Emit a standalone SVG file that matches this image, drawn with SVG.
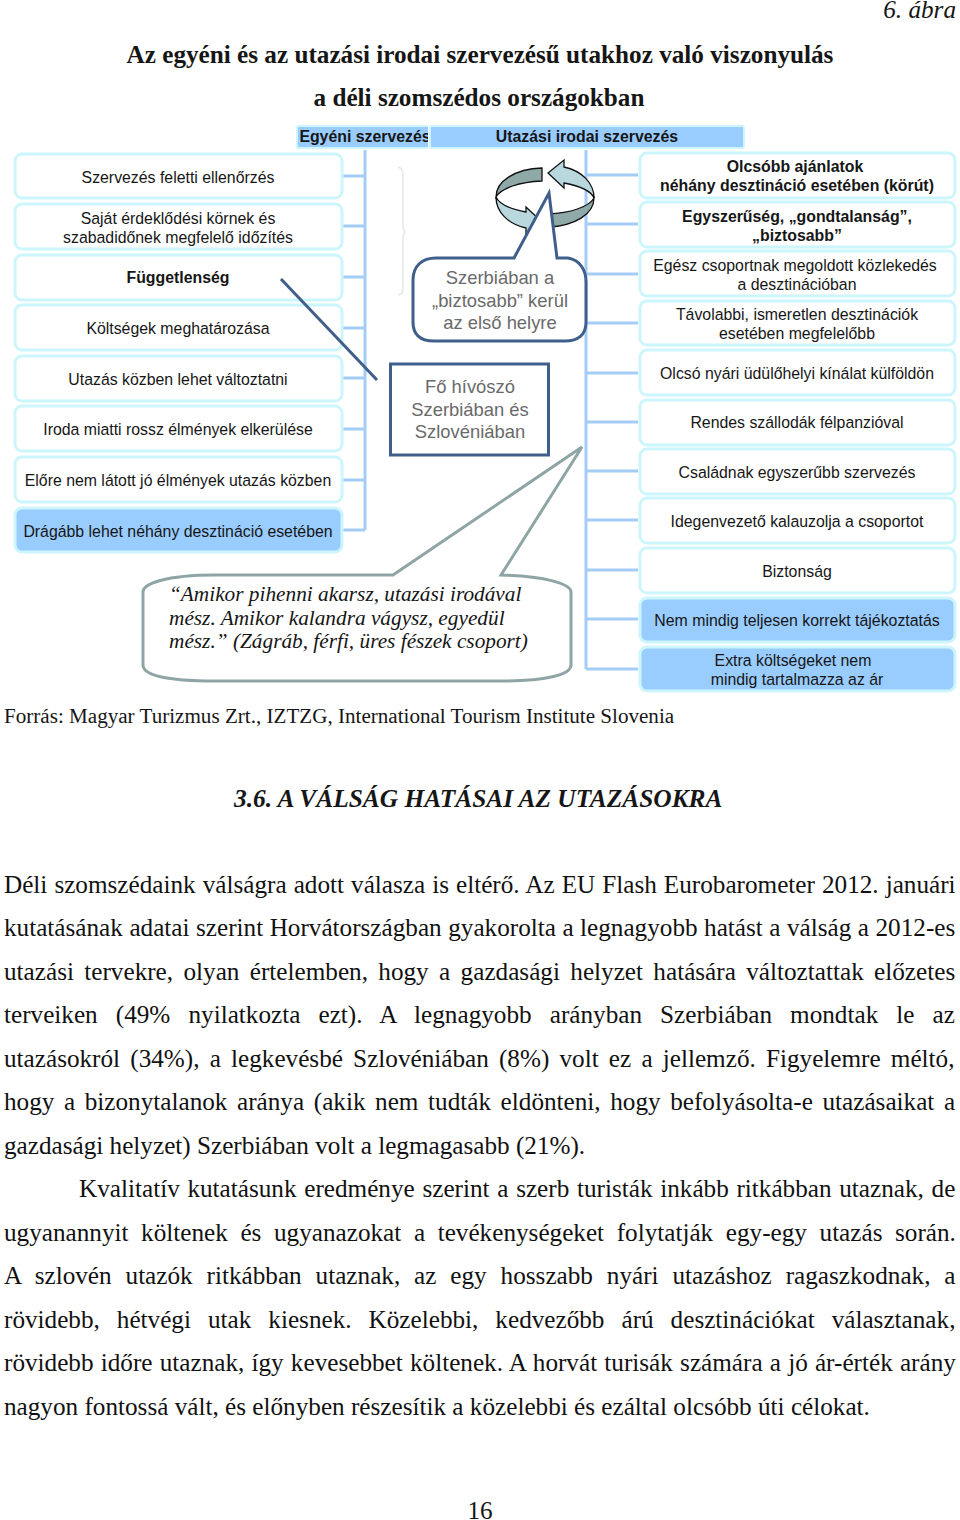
<svg xmlns="http://www.w3.org/2000/svg" width="960" height="1520" viewBox="0 0 960 1520">
<style>
text{font-family:"Liberation Sans",Arial,sans-serif;fill:#161616}
.s{font-family:"Liberation Serif","Times New Roman",serif}
.b{font-size:15.850px;text-anchor:middle}
.bb{font-size:15.850px;text-anchor:middle;font-weight:bold}
.c{font-size:18.400px;text-anchor:middle;fill:#6a6a6a}
.p{font-family:"Liberation Serif","Times New Roman",serif;font-size:25.200px;fill:#111}
.q{font-size:21.300px;font-style:italic}
.n{fill:#fff;stroke:#ccf6fb;stroke-width:3}
.h{fill:#99ccff;stroke:#ccf6fb;stroke-width:2}
.t{fill:none;stroke:#a3cdf5;stroke-width:3}
</style>
<defs><clipPath id="hc"><rect x="297" y="124" width="131" height="26"/></clipPath></defs>
<g id="connectors">
<path class="t" d="M365 150V530M343 176H365M343 226H365M343 277H365M343 328H365M343 378H365M343 429H365M343 480H365M343 530H365"/>
<path class="t" d="M586 150V669M586 175H638M586 224H638M586 274H638M586 323H638M586 373H638M586 422H638M586 471H638M586 520H638M586 570H638M586 619H638M586 669H638"/>
<path d="M398 167C403 168 403 172 403 180V222C403 228 404 231 405 232C404 233 403 236 403 242V284C403 292 403 294 398 295" fill="none" stroke="#e2e8e8" stroke-width="1.5"/>
</g>
<g id="headers">
<rect class="h" x="297" y="126" width="140" height="22" rx="2"/>
<text class="bb" x="365" y="142" clip-path="url(#hc)">Egyéni szervezés</text>
<rect x="428" y="124" width="3" height="26" fill="#fff"/>
<rect class="h" x="430" y="126" width="314" height="22" rx="2"/>
<text class="bb" x="587" y="142">Utazási irodai szervezés</text>
</g>
<g id="left1"><rect class="n" x="15" y="154" width="327" height="44" rx="7"/><text class="b" x="178" y="183">Szervezés feletti ellenőrzés</text></g>
<g id="left2"><rect class="n" x="15" y="204" width="327" height="45" rx="7"/><text class="b" x="178" y="224">Saját érdeklődési körnek és</text><text class="b" x="178" y="243">szabadidőnek megfelelő időzítés</text></g>
<g id="left3"><rect class="n" x="15" y="255" width="327" height="45" rx="7"/><text class="bb" x="178" y="283">Függetlenség</text></g>
<g id="left4"><rect class="n" x="15" y="305" width="327" height="45" rx="7"/><text class="b" x="178" y="334">Költségek meghatározása</text></g>
<g id="left5"><rect class="n" x="15" y="356" width="327" height="45" rx="7"/><text class="b" x="178" y="385">Utazás közben lehet változtatni</text></g>
<g id="left6"><rect class="n" x="15" y="406" width="327" height="45" rx="7"/><text class="b" x="178" y="435">Iroda miatti rossz élmények elkerülése</text></g>
<g id="left7"><rect class="n" x="15" y="457" width="327" height="45" rx="7"/><text class="b" x="178" y="486">Előre nem látott jó élmények utazás közben</text></g>
<g id="left8"><rect class="n" x="15" y="508" width="327" height="44" rx="7" style="fill:#99ccff"/><text class="b" x="178" y="537">Drágább lehet néhány desztináció esetében</text></g>
<g id="right1"><rect class="n" x="640" y="153" width="315" height="45" rx="7"/><text class="bb" x="795" y="172">Olcsóbb ajánlatok</text><text class="bb" x="797" y="191">néhány desztináció esetében (körút)</text></g>
<g id="right2"><rect class="n" x="640" y="202" width="315" height="45" rx="7"/><text class="bb" x="797" y="222">Egyszerűség, „gondtalanság”,</text><text class="bb" x="797" y="241">„biztosabb”</text></g>
<g id="right3"><rect class="n" x="640" y="251" width="315" height="45" rx="7"/><text class="b" x="795" y="271">Egész csoportnak megoldott közlekedés</text><text class="b" x="797" y="290">a desztinációban</text></g>
<g id="right4"><rect class="n" x="640" y="301" width="315" height="44" rx="7"/><text class="b" x="797" y="320">Távolabbi, ismeretlen desztinációk</text><text class="b" x="797" y="339">esetében megfelelőbb</text></g>
<g id="right5"><rect class="n" x="640" y="350" width="315" height="45" rx="7"/><text class="b" x="797" y="379">Olcsó nyári üdülőhelyi kínálat külföldön</text></g>
<g id="right6"><rect class="n" x="640" y="400" width="315" height="45" rx="7"/><text class="b" x="797" y="428">Rendes szállodák félpanzióval</text></g>
<g id="right7"><rect class="n" x="640" y="449" width="315" height="45" rx="7"/><text class="b" x="797" y="478">Családnak egyszerűbb szervezés</text></g>
<g id="right8"><rect class="n" x="640" y="498" width="315" height="45" rx="7"/><text class="b" x="797" y="527">Idegenvezető kalauzolja a csoportot</text></g>
<g id="right9"><rect class="n" x="640" y="548" width="315" height="45" rx="7"/><text class="b" x="797" y="577">Biztonság</text></g>
<g id="right10"><rect class="n" x="640" y="598" width="315" height="44" rx="7" style="fill:#99ccff"/><text class="b" x="797" y="626">Nem mindig teljesen korrekt tájékoztatás</text></g>
<g id="right11"><rect class="n" x="640" y="647" width="315" height="44" rx="7" style="fill:#99ccff"/><text class="b" x="793" y="666">Extra költségeket nem</text><text class="b" x="797" y="685">mindig tartalmazza az ár</text></g>
<g id="cycle" stroke="#111" stroke-width="1.3" stroke-linejoin="miter">
<g id="cycleA"><path d="M542 168C515 169 496 181 496 197C501 188 520 182 542 181Z" fill="#8fa9a9"/><path d="M496 197C496 212 508 224 526 228V235L542 222L526 207V212C510 209 499 204 496 197Z" fill="#b9d8de"/></g>
<g transform="rotate(180 545 197.5)"><path d="M542 168C515 169 496 181 496 197C501 188 520 182 542 181Z" fill="#8fa9a9"/><path d="M496 197C496 212 508 224 526 228V235L542 222L526 207V212C510 209 499 204 496 197Z" fill="#b9d8de"/></g>
</g>
<g id="callout1"><path d="M514 258L549 193L557 258H568C580 260 586 270 586 282V322C586 335 578 341 565 341H434C420 341 413 335 413 322V280C413 266 422 258 436 258Z" fill="#fff" stroke="#3f5f8a" stroke-width="3"/>
<text class="c" x="500" y="284">Szerbiában a</text><text class="c" x="500" y="307">„biztosabb” kerül</text><text class="c" x="500" y="329">az első helyre</text></g>
<g id="callout2"><path d="M281 279L377 380" fill="none" stroke="#3f5f8a" stroke-width="3"/><rect x="390.500" y="364" width="158" height="91" fill="#fff" stroke="#3f5f8a" stroke-width="3"/>
<text class="c" x="470" y="393">Fő hívószó</text><text class="c" x="470" y="416">Szerbiában és</text><text class="c" x="470" y="438">Szlovéniában</text></g>
<g id="callout3"><path d="M393 575L582 447L501 575C545 576 571 584 571 592V665C571 675 545 681 500 681H215C165 681 143 675 143 665V592C143 584 165 575 215 575Z" fill="#fff" stroke="#8fa5a5" stroke-width="3"/>
<text class="s q" x="169" y="601">“Amikor pihenni akarsz, utazási irodával</text>
<text class="s q" x="169" y="625">mész. Amikor kalandra vágysz, egyedül</text>
<text class="s q" x="169" y="648">mész.” (Zágráb, férfi, üres fészek csoport)</text></g>
<g id="page">
<text class="s" x="956" y="18" text-anchor="end" style="font-size:25.200px;font-style:italic">6. ábra</text>
<text class="s" x="480" y="63" text-anchor="middle" style="font-size:25.200px;font-weight:bold">Az egyéni és az utazási irodai szervezésű utakhoz való viszonyulás</text>
<text class="s" x="479" y="106" text-anchor="middle" style="font-size:25.200px;font-weight:bold">a déli szomszédos országokban</text>
<text class="s" x="4" y="723" style="font-size:21.100px">Forrás: Magyar Turizmus Zrt., IZTZG, International Tourism Institute Slovenia</text>
<text class="s" x="234" y="807" style="font-size:25.400px;font-weight:bold;font-style:italic">3.6. A VÁLSÁG HATÁSAI AZ UTAZÁSOKRA</text>
<text class="p" x="4" y="893" style="word-spacing:.73px">Déli szomszédaink válságra adott válasza is eltérő. Az EU Flash Eurobarometer 2012. januári</text>
<text class="p" x="4" y="936" style="word-spacing:.2px">kutatásának adatai szerint Horvátországban gyakorolta a legnagyobb hatást a válság a 2012-es</text>
<text class="p" x="4" y="980" style="word-spacing:4.07px">utazási tervekre, olyan értelemben, hogy a gazdasági helyzet hatására változtattak előzetes</text>
<text class="p" x="4" y="1023" style="word-spacing:11.8px">terveiken (49% nyilatkozta ezt). A legnagyobb arányban Szerbiában mondtak le az</text>
<text class="p" x="4" y="1067" style="word-spacing:3.88px">utazásokról (34%), a legkevésbé Szlovéniában (8%) volt ez a jellemző. Figyelemre méltó,</text>
<text class="p" x="4" y="1110" style="word-spacing:3.3px">hogy a bizonytalanok aránya (akik nem tudták eldönteni, hogy befolyásolta-e utazásaikat a</text>
<text class="p" x="4" y="1154">gazdasági helyzet) Szerbiában volt a legmagasabb (21%).</text>
<text class="p" x="79" y="1197" style="word-spacing:1.4px">Kvalitatív kutatásunk eredménye szerint a szerb turisták inkább ritkábban utaznak, de</text>
<text class="p" x="4" y="1241" style="word-spacing:6.3px">ugyanannyit költenek és ugyanazokat a tevékenységeket folytatják egy-egy utazás során.</text>
<text class="p" x="4" y="1284" style="word-spacing:7.6px">A szlovén utazók ritkábban utaznak, az egy hosszabb nyári utazáshoz ragaszkodnak, a</text>
<text class="p" x="4" y="1328" style="word-spacing:10.7px">rövidebb, hétvégi utak kiesnek. Közelebbi, kedvezőbb árú desztinációkat választanak,</text>
<text class="p" x="4" y="1371" style="word-spacing:.9px">rövidebb időre utaznak, így kevesebbet költenek. A horvát turisák számára a jó ár-érték arány</text>
<text class="p" x="4" y="1415">nagyon fontossá vált, és előnyben részesítik a közelebbi és ezáltal olcsóbb úti célokat.</text>
<text class="s" x="480" y="1519" text-anchor="middle" style="font-size:25.200px">16</text>
</g>
</svg>
